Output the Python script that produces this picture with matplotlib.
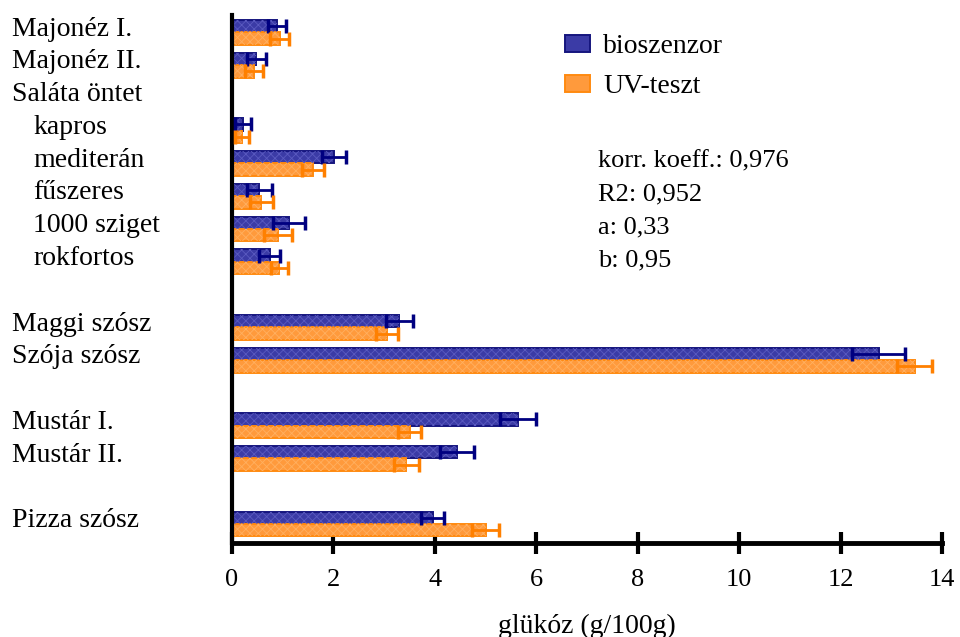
import matplotlib
matplotlib.use("Agg")
import matplotlib.pyplot as plt
import matplotlib.transforms as mtransforms
import numpy as np

plt.rcParams['font.family'] = ['Liberation Serif', 'DejaVu Serif']
plt.rcParams['hatch.linewidth'] = 0.6

# Row layout (top to bottom); None marks an empty spacer row
categories = ["Majonéz I.", "Majonéz II.", "Saláta öntet", "kapros", "mediterán",
              "fűszeres", "1000 sziget", "rokfortos", None, "Maggi szósz",
              "Szója szósz", None, "Mustár I.", "Mustár II.", None, "Pizza szósz"]
indented = ["kapros", "mediterán", "fűszeres", "1000 sziget", "rokfortos"]

# glucose content (g/100g); NaN = heading row without bars
bio = [0.88, 0.48, np.nan, 0.21, 2.01, 0.54, 1.12, 0.74, np.nan, 3.30,
       12.75, np.nan, 5.64, 4.44, np.nan, 3.96]
bio_err = [0.18, 0.19, np.nan, 0.16, 0.23, 0.24, 0.32, 0.20, np.nan, 0.27,
           0.52, np.nan, 0.36, 0.34, np.nan, 0.23]
uv = [0.94, 0.43, np.nan, 0.20, 1.60, 0.58, 0.91, 0.93, np.nan, 3.05,
      13.46, np.nan, 3.50, 3.44, np.nan, 5.00]
uv_err = [0.19, 0.18, np.nan, 0.14, 0.22, 0.22, 0.27, 0.17, np.nan, 0.22,
          0.34, np.nan, 0.22, 0.24, np.nan, 0.27]

stats = ["korr. koeff.: 0,976", "R2: 0,952", "a: 0,33", "b: 0,95"]
xticks = [0, 2, 4, 6, 8, 10, 12, 14]

fig = plt.figure(figsize=(9.6, 6.37), dpi=100)
ax = fig.add_axes([232/960, 1 - 543/637, 710/960, 528/637])

pos = np.arange(len(categories))
h = 0.38
fs = 20

blue_face, blue_edge, blue_hatch = "#3b3ba6", "#15157e", "#5a5ac0"
or_face, or_edge, or_hatch = "#ff9a3c", "#ff8a10", "#ffb060"

# bars with a fine texture on top
ax.barh(pos - h/2, bio, height=h, color=blue_face, edgecolor=blue_edge,
        linewidth=1.4, zorder=2, label="bioszenzor")
ax.barh(pos - h/2, bio, height=h, color="none", edgecolor=blue_hatch,
        hatch="xxxx", linewidth=0, zorder=2.1)
ax.barh(pos + h/2, uv, height=h, color=or_face, edgecolor=or_edge,
        linewidth=1.4, zorder=2, label="UV-teszt")
ax.barh(pos + h/2, uv, height=h, color="none", edgecolor=or_hatch,
        hatch="xxxx", linewidth=0, zorder=2.1)

ax.errorbar(bio, pos - h/2, xerr=bio_err, fmt="none", ecolor="#000080",
            elinewidth=2, capsize=5, capthick=2.5, zorder=3)
ax.errorbar(uv, pos + h/2, xerr=uv_err, fmt="none", ecolor="#ff8000",
            elinewidth=2, capsize=5, capthick=2.5, zorder=3)

ax.set_xlim(0, 14)
ax.set_ylim(15.58, -0.53)
ax.set_xticks(xticks)
ax.set_xticklabels([str(t) for t in xticks], fontsize=19)
ax.set_yticks([])

for s in ("top", "right"):
    ax.spines[s].set_visible(False)
ax.spines["left"].set_linewidth(3)
ax.spines["bottom"].set_linewidth(3.5)
ax.tick_params(axis="x", direction="inout", length=16, width=3, pad=11)

# category labels on the left
label_tr = mtransforms.blended_transform_factory(fig.transFigure, ax.transData)
for i, name in enumerate(categories):
    if name is None:
        continue
    x = 33 if name in indented else 12
    ax.text(x / 960, i - 0.1, name, fontsize=fs, va="center", ha="left",
            transform=label_tr)

ax.set_xlabel("glükóz (g/100g)", fontsize=fs, labelpad=16)

ax.legend(loc="upper left", bbox_to_anchor=(540/960, 1 - 9/637),
          bbox_transform=fig.transFigure, frameon=False, fontsize=fs,
          handlelength=0.9, handleheight=0.55, handletextpad=0.47,
          labelspacing=0.55)

for k, line in enumerate(stats):
    fig.text(598/960, 1 - (161 + 33*k)/637, line, fontsize=19, va="center", ha="left")

fig.savefig("out.png", dpi=100)
